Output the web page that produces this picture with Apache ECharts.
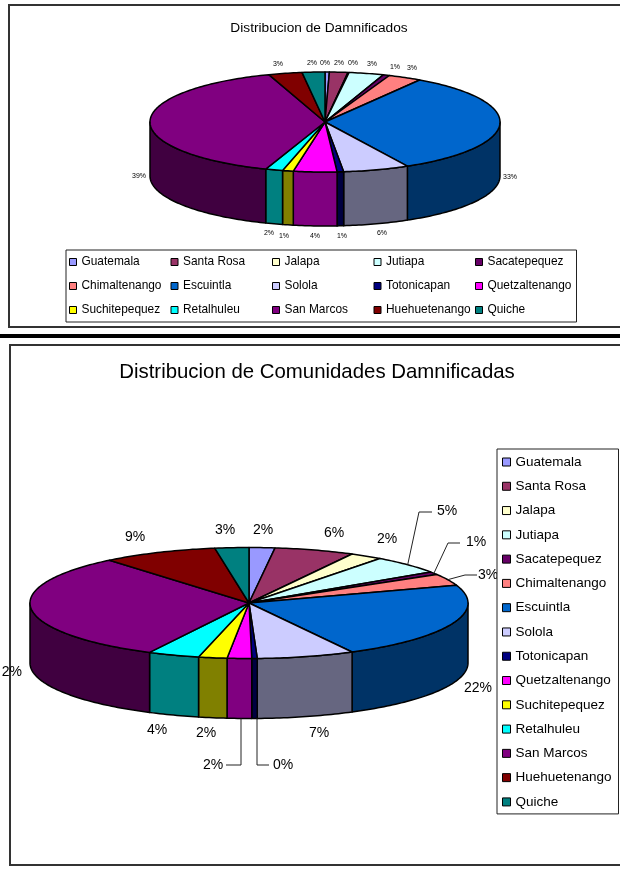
<!DOCTYPE html>
<html>
<head>
<meta charset="utf-8">
<title>Distribucion de Damnificados</title>
<script src="https://cdn.jsdelivr.net/npm/echarts@6/dist/echarts.min.js"></script>
<style>
  html, body { margin: 0; padding: 0; background: #fff; }
  #chart { width: 620px; height: 872px; }
</style>
</head>
<body>
<div id="chart"></div>
<script>
const regions = ['Guatemala', 'Santa Rosa', 'Jalapa', 'Jutiapa', 'Sacatepequez', 'Chimaltenango', 'Escuintla', 'Solola',
  'Totonicapan', 'Quetzaltenango', 'Suchitepequez', 'Retalhuleu', 'San Marcos', 'Huehuetenango', 'Quiche'];
const regionColors = ['#9999ff', '#993366', '#ffffcc', '#ccffff', '#660066', '#ff8080', '#0066cc', '#ccccff',
  '#000080', '#ff00ff', '#ffff00', '#00ffff', '#800080', '#800000', '#008080'];

// percentages
const damnificados = [0.4, 1.7, 0.1, 3.2, 0.6, 3.1, 33.1, 6.1, 0.6, 4.0, 1.0, 1.6, 39.3, 3.1, 2.1];
const comunidades = [1.9, 5.9, 2.4, 5.4, 0.8, 3.4, 22.4, 7.2, 0.4, 1.8, 2.1, 3.8, 31.5, 8.5, 2.5];

// layout of the two pies, in pixels
const pieTop = { cx: 325, cy: 122, rx: 175, ry: 50, depth: 54, fontSize: 7, lineWidth: 1.5 };
const pieBottom = { cx: 249, cy: 603, rx: 219, ry: 55.5, depth: 60, fontSize: 14, lineWidth: 1.5 };

const labelsTop = [[325, 63], [339, 63], [353, 63], [372, 64], [395, 67], [412, 68], [510, 177], [382, 233],
  [342, 236], [315, 236], [284, 236], [269, 233], [139, 176], [278, 64], [312, 63]];
const labelsBottom = [[263, 530], [334, 533], [387, 539], [447, 511], [476, 542], [488, 575], [478, 688], [319, 733],
  [283, 765], [213, 765], [206, 733], [157, 730], [8, 672], [135, 537], [225, 530]];

// elbow and end of the leader lines, by slice index
const leadersBottom = {
  3: [[419, 512], [432, 512]],
  4: [[448, 543], [460, 543]],
  5: [[465, 575], [477, 575]],
  8: [[257, 765], [269, 765]],
  9: [[241, 765], [226, 765]]
};

function halfColor (hex) {
  const n = parseInt(hex.slice(1), 16);
  const half = shift => Math.round(((n >> shift) & 255) / 2);
  return 'rgb(' + half(16) + ',' + half(8) + ',' + half(0) + ')';
}

function rimPoint (pie, angle, drop) {
  return [pie.cx + pie.rx * Math.sin(angle), pie.cy - pie.ry * Math.cos(angle) + (drop || 0)];
}

function arcPoints (pie, from, to, drop) {
  const steps = Math.max(1, Math.ceil((to - from) / (Math.PI / 180)));
  const points = [];
  for (let i = 0; i <= steps; i++) {
    points.push(rimPoint(pie, from + (to - from) * i / steps, drop));
  }
  return points;
}

function leaderPoints (pie, mid, elbows) {
  const front = mid > Math.PI / 2 && mid < Math.PI * 1.5;
  const anchor = rimPoint(pie, mid, front ? pie.depth : 0);
  // the lines under the pie drop straight down to their elbow
  if (front) {
    anchor[0] = elbows[0][0];
  }
  return [anchor].concat(elbows);
}

function buildPie (values, pie, labels, leaders) {
  const total = values.reduce((a, b) => a + b, 0);
  let sum = 0;
  return values.map((value, index) => {
    const start = sum / total * Math.PI * 2;
    sum += value;
    const end = sum / total * Math.PI * 2;
    const color = regionColors[index];
    return {
      type: 'custom',
      name: regions[index],
      coordinateSystem: 'none',
      silent: true,
      clip: false,
      itemStyle: { color: color },
      data: [[value]],
      renderItem: (params, api) => {
        const share = Math.round(api.value(0) / total * 100);
        const stroke = { stroke: '#000', lineWidth: pie.lineWidth, lineJoin: 'round' };
        const children = [];
        // the side wall only shows on the front half
        const wallFrom = Math.max(start, Math.PI / 2);
        const wallTo = Math.min(end, Math.PI * 1.5);
        if (wallTo > wallFrom) {
          const upper = arcPoints(pie, wallFrom, wallTo, 0);
          const lower = arcPoints(pie, wallFrom, wallTo, pie.depth).reverse();
          children.push({
            type: 'polygon',
            shape: { points: upper.concat(lower) },
            style: Object.assign({ fill: halfColor(color) }, stroke)
          });
        }
        children.push({
          type: 'polygon',
          shape: { points: [[pie.cx, pie.cy]].concat(arcPoints(pie, start, end, 0)) },
          style: Object.assign({ fill: color }, stroke)
        });
        if (leaders && leaders[index]) {
          children.push({
            type: 'polyline',
            shape: { points: leaderPoints(pie, (start + end) / 2, leaders[index]) },
            style: { stroke: '#222', lineWidth: 1, fill: null }
          });
        }
        children.push({
          type: 'text',
          style: {
            text: share + '%',
            x: labels[index][0],
            y: labels[index][1],
            align: 'center',
            verticalAlign: 'middle',
            fill: '#000',
            font: pie.fontSize + 'px "Liberation Sans"'
          }
        });
        return { type: 'group', children: children };
      }
    };
  });
}

const legendBase = {
  data: regions,
  selectedMode: false,
  icon: 'rect',
  itemHeight: 7,
  borderColor: '#222',
  borderWidth: 1,
  backgroundColor: '#fff',
  itemStyle: { borderColor: '#000', borderWidth: 1 }
};

const frames = [
  { z: -10, type: 'rect', shape: { x: 9, y: 5, width: 640, height: 322 }, style: { fill: '#fff', stroke: '#333', lineWidth: 2 } },
  { z: -10, type: 'rect', shape: { x: 0, y: 334, width: 620, height: 4 }, style: { fill: '#000' } },
  { z: -10, type: 'rect', shape: { x: 10, y: 345, width: 640, height: 520 }, style: { fill: '#fff', stroke: '#333', lineWidth: 2 } },
  // the picture cuts the first digit of the San Marcos label at its left edge
  { z: 50, type: 'rect', shape: { x: 0, y: 662, width: 2, height: 20 }, style: { fill: '#fff' } }
];

const chart = echarts.init(document.getElementById('chart'), null, { renderer: 'canvas' });
chart.setOption({
  animation: false,
  backgroundColor: '#fff',
  graphic: frames.map(f => Object.assign({ silent: true }, f)),
  title: [
    {
      text: 'Distribucion de Damnificados',
      left: 319,
      top: 21,
      textAlign: 'center',
      padding: 0,
      textStyle: { fontFamily: 'Liberation Sans', fontSize: 13.7, fontWeight: 'normal', color: '#000' }
    },
    {
      text: 'Distribucion de Comunidades Damnificadas',
      left: 317,
      top: 362,
      textAlign: 'center',
      padding: 0,
      textStyle: { fontFamily: 'Liberation Sans', fontSize: 20.4, fontWeight: 'normal', color: '#000' }
    }
  ],
  legend: [
    Object.assign({}, legendBase, {
      orient: 'horizontal',
      left: 66,
      top: 250,
      width: 510,
      itemWidth: 7,
      padding: [0, 0, 0, 3],
      itemGap: 0,
      textStyle: { fontFamily: 'Liberation Sans', fontSize: 11.9, color: '#000', width: 89, lineHeight: 24 }
    }),
    Object.assign({}, legendBase, {
      orient: 'vertical',
      left: 497,
      top: 449,
      itemWidth: 8,
      itemHeight: 8,
      padding: [1, 3, 0, 5],
      itemGap: 0.28,
      textStyle: { fontFamily: 'Liberation Sans', fontSize: 13.5, color: '#000', width: 100, lineHeight: 24 }
    })
  ],
  series: buildPie(damnificados, pieTop, labelsTop).concat(buildPie(comunidades, pieBottom, labelsBottom, leadersBottom))
});
</script>
</body>
</html>
